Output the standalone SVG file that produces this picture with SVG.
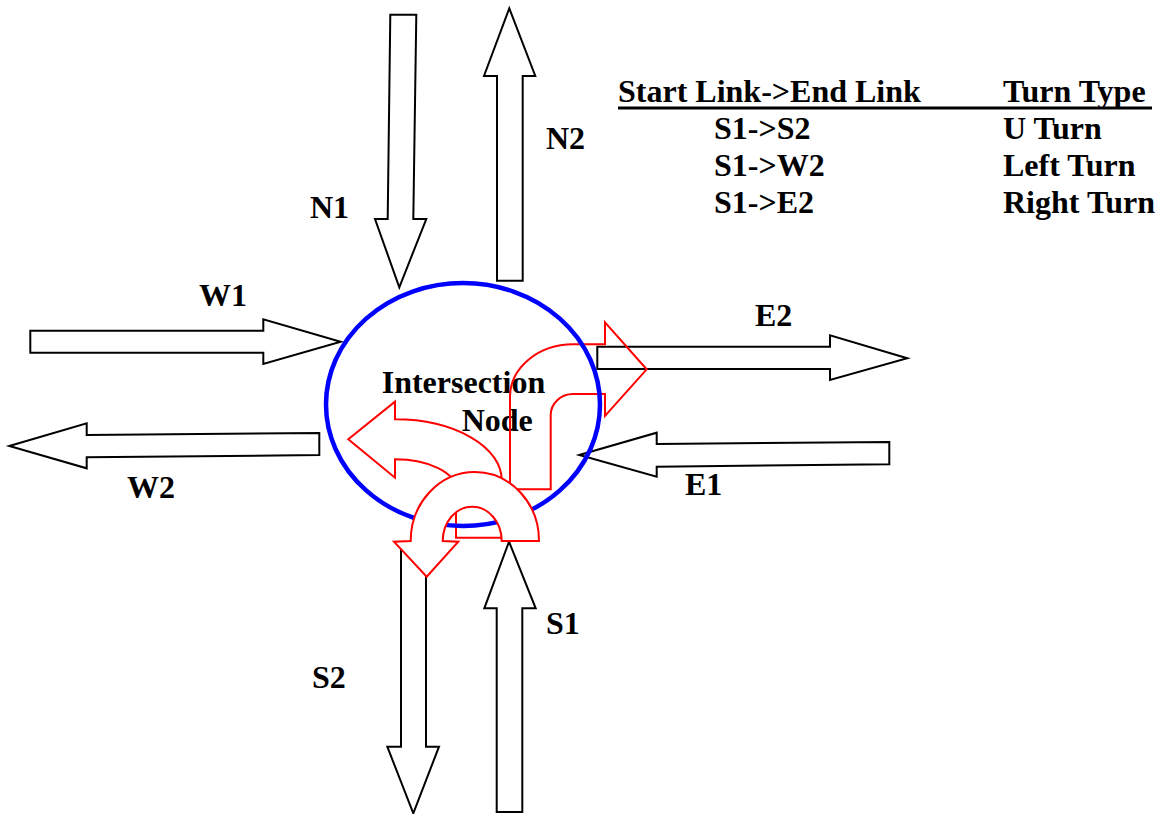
<svg xmlns="http://www.w3.org/2000/svg" width="1162" height="814" viewBox="0 0 1162 814">
<style>
.link{fill:#fff;stroke:#000;stroke-width:2;stroke-linejoin:miter}
.turn{fill:none;stroke:#ff0000;stroke-width:2}
.uturn{fill:#fff;stroke:#ff0000;stroke-width:2}
.t{font-family:"Liberation Serif","Times New Roman",serif;font-weight:bold;font-size:32px;fill:#000}
</style>
<rect width="1162" height="814" fill="#fff"/>
<g id="connectors">
  <g id="link-N1"><polygon class="link" points="390.3,14.7 416.3,14.7 413.3,219 426.3,219 399.3,287.3 375,219 387.7,219"/></g>
  <g id="link-N2"><polygon class="link" points="509.3,8.3 535.3,76 522.7,76 522.7,280.7 497,280.7 497,76 484,76"/></g>
  <g id="link-W1"><polygon class="link" points="30.3,330.7 263.3,330.7 263.3,319.3 340.7,341.7 263.3,364 263.3,352.7 30.3,352.7"/></g>
  <g id="link-W2"><polygon class="link" points="9.3,446 86.7,423.3 86.7,435 319.3,433 319.3,455 86.7,457.3 86.7,468.3"/></g>
  <g id="link-E2"><polygon class="link" points="597.3,346.7 830,346.7 830,335.3 907.3,358.3 830,380 830,369 597.3,369"/></g>
  <g id="link-E1"><polygon class="link" points="579.3,455 656.7,432.7 656.7,444 889.3,442 889.3,464.3 656.7,466.7 656.7,476.7"/></g>
  <g id="link-S2"><polygon class="link" points="401,545 426,545 426,746.7 439,746.7 413.3,813.3 387.3,746.7 401,746.7"/></g>
  <g id="link-S1"><polygon class="link" points="509,541.7 535.7,608.3 522.3,608.3 522.3,812 496.7,812 496.7,608.3 484.3,608.3"/></g>
</g>
<g id="labels">
  <text class="t" x="310" y="218">N1</text>
  <text class="t" x="546" y="149">N2</text>
  <text class="t" x="199" y="306">W1</text>
  <text class="t" x="127" y="498">W2</text>
  <text class="t" x="755" y="326">E2</text>
  <text class="t" x="685" y="495">E1</text>
  <text class="t" x="546" y="634">S1</text>
  <text class="t" x="312" y="688">S2</text>
</g>
<g id="intersection-node">
  <text class="t" x="381.7" y="393">Intersection</text>
  <text class="t" x="461.7" y="431">Node</text>
</g>
<g id="turns">
  <g id="turn-right"><path class="turn" d="M510,489.3 L510,397 A63,52.7 0 0 1 573,344.3 L605,344.3 L605,322.3 L646.7,369.3 L605,416 L605,394 L573,394 A22.3,21 0 0 0 550.7,415 L550.7,489.3 Z"/></g>
  <g id="turn-left"><path class="turn" d="M501.7,537.7 L501.7,480 A106.7,60.7 0 0 0 395,419.3 L395,401.7 L348.3,439.3 L395,477.7 L395,459.3 A61,30 0 0 1 456,489.3 L456,537.7 Z"/></g>
</g>
<g id="node-circle"><ellipse cx="463" cy="404.5" rx="137" ry="121.5" fill="none" stroke="#0000ff" stroke-width="4.5"/></g>
<g id="turn-u"><path class="uturn" d="M410.7,541 A64.15,69 0 0 1 539,541 L501.7,541 A29.5,34.3 0 0 0 442.7,541 L458.3,541.7 L426.7,576.7 L394,541.7 Z"/></g>
<g id="table">
  <text class="t" x="618" y="102">Start Link-&gt;End Link</text>
  <text class="t" x="1003" y="102">Turn Type</text>
  <line x1="618" y1="108" x2="1152" y2="108" stroke="#000" stroke-width="3"/>
  <text class="t" x="714" y="139">S1-&gt;S2</text>
  <text class="t" x="1003" y="139">U Turn</text>
  <text class="t" x="714" y="176">S1-&gt;W2</text>
  <text class="t" x="1003" y="176">Left Turn</text>
  <text class="t" x="714" y="213">S1-&gt;E2</text>
  <text class="t" x="1003" y="213">Right Turn</text>
</g>
</svg>
